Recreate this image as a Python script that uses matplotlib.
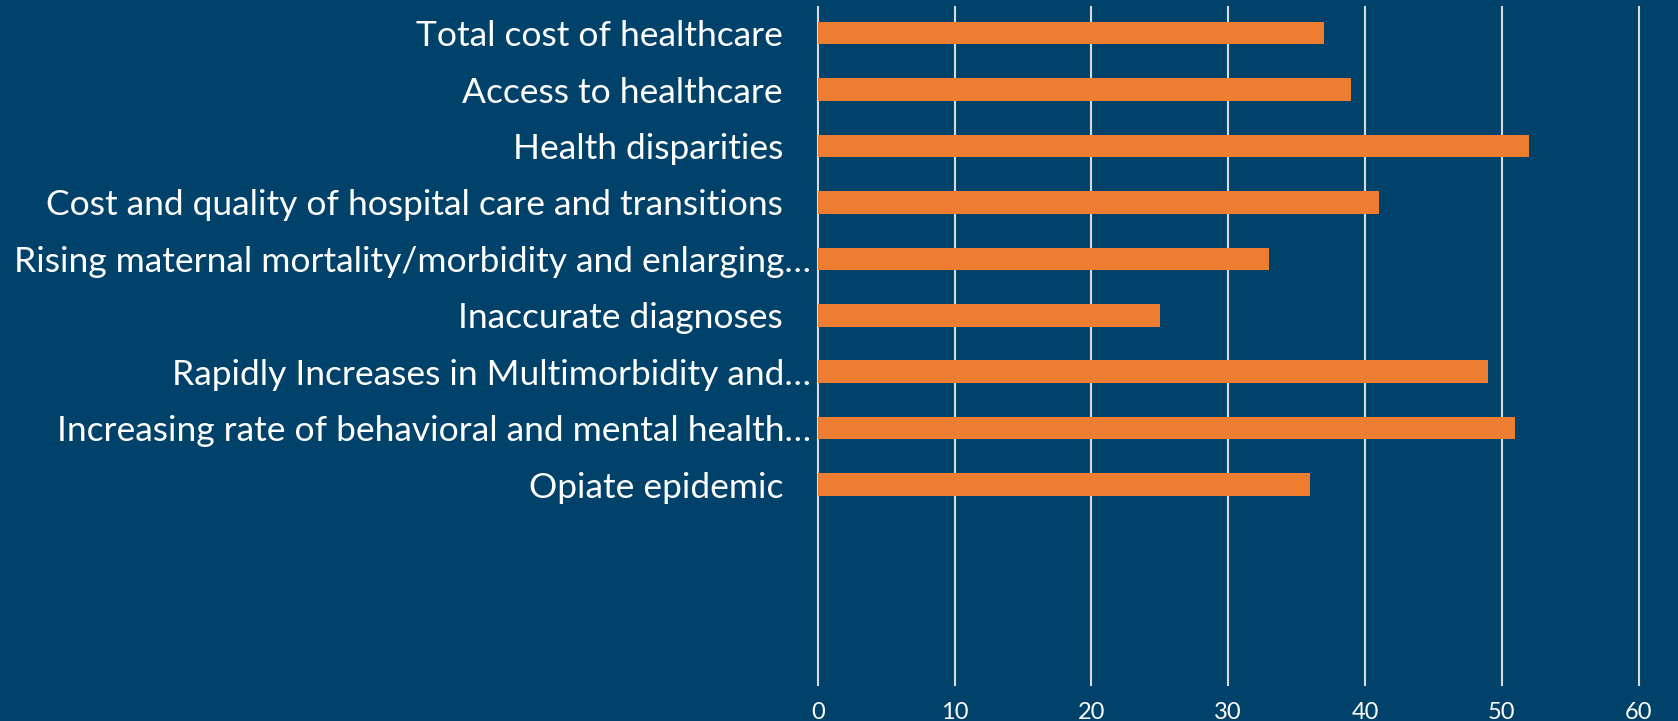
import matplotlib
matplotlib.use('Agg')
import matplotlib.pyplot as plt

## horizontal bar chart of healthcare concerns

categories = [
    'Total cost of healthcare',
    'Access to healthcare',
    'Health disparities',
    'Cost and quality of hospital care and transitions',
    'Rising maternal mortality/morbidity and enlarging\u2026',
    'Inaccurate diagnoses',
    'Rapidly Increases in Multimorbidity and\u2026',
    'Increasing rate of behavioral and mental health\u2026',
    'Opiate epidemic',
]
values = [37, 39, 52, 41, 33, 25, 49, 51, 36]
xticks = [0, 10, 20, 30, 40, 50, 60]
n_slots = 12  # chart area leaves room for 3 empty categories below

bg = '#01426A'
bar_color = '#ED7D31'
grid_color = '#D9D9D9'

plt.rcParams['font.family'] = ['Lato', 'DejaVu Sans']

fig = plt.figure(figsize=(16.78, 7.21), dpi=100, facecolor=bg)
ax = fig.add_axes([0.4873, 0.050, 0.4892, 0.940])
ax.set_facecolor(bg)

pos = list(range(len(categories)))
ax.barh(pos, values, height=0.4, color=bar_color, zorder=3)

ax.set_xlim(0, 60)
ax.set_ylim(n_slots - 0.45, -0.46)
ax.set_xticks(xticks)
ax.set_xticklabels([str(t) for t in xticks])
ax.set_yticks(pos)
ax.set_yticklabels(categories)

for x in xticks:
    ax.axvline(x, color=grid_color, lw=1.5, zorder=1, clip_on=False)

for s in ax.spines.values():
    s.set_visible(False)
ax.tick_params(axis='y', length=0, labelsize=25.5, labelcolor='white')
ax.tick_params(axis='x', length=0, pad=12, labelsize=17, labelcolor='white')

# full labels keep a trailing gap, truncated ones sit close to the axis
for tick, lab in zip(ax.yaxis.get_major_ticks(), categories):
    tick.set_pad(5 if lab.endswith('\u2026') else 25)

fig.savefig('out.png', dpi=100, facecolor=bg)
